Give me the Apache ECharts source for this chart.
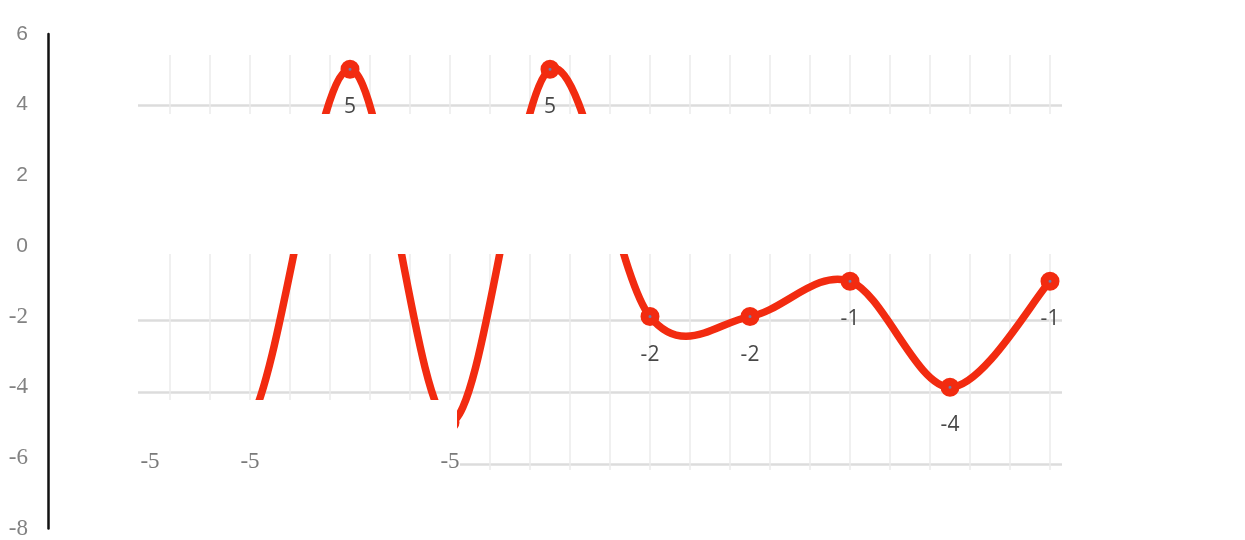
<!DOCTYPE html>
<html>
<head>
<meta charset="utf-8">
<script src="https://cdn.jsdelivr.net/npm/echarts@6/dist/echarts.min.js"></script>
<style>
  html, body { margin: 0; padding: 0; background: #fff; }
  #chart { width: 1245px; height: 540px; }
</style>
</head>
<body>
<div id="chart"></div>
<script>
// Positions of the points along the horizontal scale
const xPositions = [1, 2, 3, 4, 5, 6, 7, 8, 9, 10];
// Series values
const seriesValues = [-5, -5, 5, -5, 5, -2, -2, -1, -4, -1];
// Left axis range and step
const yTicks = { min: -8, max: 6, step: 2 };

const points = xPositions.map((x, i) => [x, seriesValues[i]]);

const RED = '#f22b10';
const SANS = 'Liberation Sans';
const SERIF = 'Liberation Serif';

// One cubic segment of a Catmull-Rom curve through the points, in pixel space
function renderSegment(params, api) {
  const i = params.dataIndex;
  const at = k => api.coord(points[Math.max(0, Math.min(points.length - 1, k))]);
  const p0 = at(i - 1), p1 = at(i), p2 = at(i + 1), p3 = at(i + 2);
  return {
    type: 'bezierCurve',
    shape: {
      x1: p1[0], y1: p1[1], x2: p2[0], y2: p2[1],
      cpx1: p1[0] + (p2[0] - p0[0]) / 6, cpy1: p1[1] + (p2[1] - p0[1]) / 6,
      cpx2: p2[0] - (p3[0] - p1[0]) / 6, cpy2: p2[1] - (p3[1] - p1[1]) / 6
    },
    style: { stroke: RED, lineWidth: 7.5, fill: 'none', lineCap: 'round' }
  };
}

const chart = echarts.init(document.getElementById('chart'), null, { renderer: 'canvas' });

const axisLabelBase = { margin: 20, color: '#828282' };

chart.setOption({
  animation: false,
  backgroundColor: '#ffffff',
  grid: [
    // main plotting area
    { left: 130, right: 155, top: 34, bottom: 5 },
    // faint vertical guides
    { left: 130, right: 155, top: 55, bottom: 70 },
    // horizontal guides
    { left: 138, right: 183, top: 34, bottom: 76 }
  ],
  xAxis: [
    { gridIndex: 0, type: 'value', min: 0.8, max: 10.4, show: false },
    {
      gridIndex: 1, type: 'value', min: 0.8, max: 10.4, interval: 0.4,
      axisLine: { show: false }, axisTick: { show: false }, axisLabel: { show: false },
      splitLine: {
        show: true, showMinLine: false, showMaxLine: false,
        lineStyle: { color: '#ebebeb', width: 1.5 }
      }
    },
    { gridIndex: 2, type: 'value', min: 0, max: 1, show: false }
  ],
  yAxis: [
    {
      // axis line and the non-negative tick labels
      gridIndex: 0, type: 'value',
      min: yTicks.min, max: yTicks.max, interval: yTicks.step,
      offset: 82,
      axisLine: { show: true, lineStyle: { color: '#111', width: 2.5 } },
      axisTick: { show: false },
      splitLine: { show: false },
      axisLabel: Object.assign({}, axisLabelBase, {
        fontFamily: SANS, fontSize: 21,
        formatter: v => (v >= 0 ? String(v) : '')
      })
    },
    {
      // negative tick labels
      gridIndex: 0, type: 'value',
      min: yTicks.min, max: yTicks.max, interval: yTicks.step,
      position: 'left', offset: 82,
      axisLine: { show: false }, axisTick: { show: false }, splitLine: { show: false },
      axisLabel: Object.assign({}, axisLabelBase, {
        fontFamily: SERIF, fontSize: 23,
        formatter: v => (v < 0 ? String(v) : '')
      })
    },
    { gridIndex: 1, type: 'value', min: 0, max: 1, show: false },
    {
      gridIndex: 2, type: 'value', min: -6, max: 6, interval: 2,
      axisLine: { show: false }, axisTick: { show: false }, axisLabel: { show: false },
      splitLine: {
        show: true, showMinLine: true, showMaxLine: false,
        lineStyle: { color: '#dcdcdc', width: 2.5 }
      }
    }
  ],
  series: [
    {
      // smooth curve
      type: 'custom',
      xAxisIndex: 0, yAxisIndex: 0,
      data: points.slice(0, -1),
      encode: { x: 0, y: 1 },
      renderItem: renderSegment,
      z: 1,
      silent: true
    },
    {
      // point markers and value labels
      type: 'line',
      xAxisIndex: 0, yAxisIndex: 0,
      data: points.map(p => ({
        value: p,
        label: p[1] === -5
          ? { fontFamily: SERIF, fontSize: 23, color: '#7a7a7a' }
          : { fontFamily: 'Open Sans', fontSize: 21, color: '#474747' }
      })),
      z: 3,
      lineStyle: { opacity: 0 },
      symbol: 'circle',
      symbolSize: 11,
      itemStyle: { color: '#6f7ba8', borderColor: RED, borderWidth: 8 },
      label: { show: true, position: 'bottom', distance: 18 }
    }
  ],
  graphic: [
    // blank band across the middle of the plot
    {
      type: 'rect', z: 100,
      shape: { x: 130, y: 114, width: 936, height: 140 },
      style: { fill: '#ffffff' }
    },
    // blank patch along the lower left, over the curve and markers
    {
      type: 'rect', z: 100,
      shape: { x: 130, y: 400, width: 327, height: 52 },
      style: { fill: '#ffffff' }
    },
    // blank patch along the lower left, under the labels
    {
      type: 'rect', z: 2,
      shape: { x: 130, y: 450, width: 330, height: 24 },
      style: { fill: '#ffffff' }
    }
  ]
});
</script>
</body>
</html>
